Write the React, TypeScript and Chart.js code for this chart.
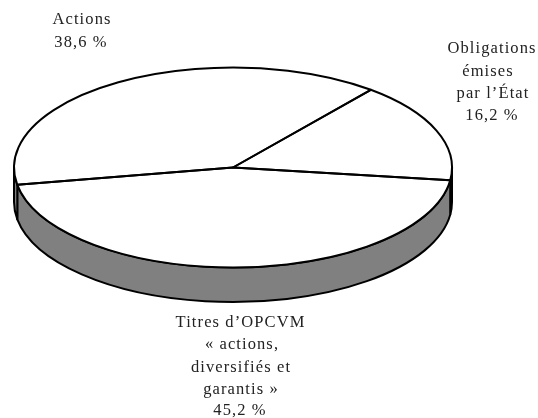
import React, { useEffect, useRef } from "react";
import { Chart, registerables } from "chart.js";

Chart.register(...registerables);

const categories = ["Obligations émises par l’État", "Titres d’OPCVM « actions, diversifiés et garantis »", "Actions"];
const values = [16.2, 45.2, 38.6];
const labelLines = [
  ["Obligations", "émises", "par l’État", "16,2 %"],
  ["Titres d’OPCVM", "« actions,", "diversifiés et", "garantis »", "45,2 %"],
  ["Actions", "38,6 %"],
];
const labelCentres = [
  [492, 488, 493, 492],
  [240.5, 242, 241, 241, 240],
  [82, 81],
];
const labelBaselines = [
  [53, 76, 98, 120],
  [327, 349, 372, 394, 415],
  [24, 47],
];

const WIDTH = 538;
const HEIGHT = 418;
const CX = 233;
const CY = 167.5;
const RX = 219;
const RY = 100;
const DEPTH = 34.5;
const LINE = 2;
const GREY = "#808080";

const pie3d = {
  id: "pie3d",
  beforeDatasetsDraw(chart: any) {
    const ctx = chart.ctx;
    const arcs = chart.getDatasetMeta(0).data;
    ctx.save();
    ctx.lineWidth = LINE;
    ctx.strokeStyle = "#000";
    ctx.fillStyle = GREY;
    ctx.lineJoin = "round";
    for (const arc of arcs) {
      const a0 = arc.startAngle;
      const a1 = arc.endAngle;
      for (const k of [-2, 0, 2]) {
        const s = Math.max(a0, k * Math.PI);
        const e = Math.min(a1, (k + 1) * Math.PI);
        if (e <= s) continue;
        const px = (t: number) => CX + RX * Math.cos(t);
        const py = (t: number) => CY + RY * Math.sin(t);
        ctx.beginPath();
        ctx.moveTo(px(s), py(s));
        ctx.ellipse(CX, CY + DEPTH, RX, RY, 0, s, e);
        ctx.lineTo(px(e), py(e));
        ctx.ellipse(CX, CY, RX, RY, 0, e, s, true);
        ctx.closePath();
        ctx.fill();
        ctx.stroke();
      }
    }
    ctx.restore();
  },
  beforeDatasetDraw(chart: any) {
    const ctx = chart.ctx;
    const arc = chart.getDatasetMeta(0).data[0];
    ctx.save();
    ctx.translate(arc.x, arc.y);
    ctx.scale(RX / arc.outerRadius, RY / arc.outerRadius);
    ctx.translate(-arc.x, -arc.y);
  },
  afterDatasetDraw(chart: any) {
    const ctx = chart.ctx;
    ctx.restore();
    const arcs = chart.getDatasetMeta(0).data;
    ctx.save();
    ctx.lineWidth = LINE;
    ctx.strokeStyle = "#000";
    ctx.lineJoin = "round";
    for (const arc of arcs) {
      ctx.beginPath();
      ctx.moveTo(CX, CY);
      ctx.ellipse(CX, CY, RX, RY, 0, arc.startAngle, arc.endAngle);
      ctx.closePath();
      ctx.stroke();
    }
    ctx.restore();
  },
  afterDraw(chart: any) {
    const ctx = chart.ctx;
    ctx.save();
    ctx.fillStyle = "#222";
    ctx.font = '16.5px "Liberation Serif"';
    ctx.textAlign = "center";
    ctx.textBaseline = "alphabetic";
    (ctx as any).letterSpacing = "1.1px";
    labelLines.forEach((lines, i) => {
      lines.forEach((line, j) => {
        ctx.fillText(line, labelCentres[i][j], labelBaselines[i][j]);
      });
    });
    ctx.restore();
  },
};

export default function App() {
  const ref = useRef<HTMLCanvasElement>(null);
  useEffect(() => {
    const chart = new Chart(ref.current as HTMLCanvasElement, {
      type: "pie",
      data: {
        labels: categories,
        datasets: [{ data: values, backgroundColor: "#ffffff", borderWidth: 0 }],
      },
      options: {
        responsive: false,
        animation: false,
        rotation: 39,
        layout: {
          padding: { left: 0, top: 0, right: WIDTH - 2 * CX, bottom: HEIGHT - 2 * CY },
        },
        plugins: { legend: { display: false }, tooltip: { enabled: false } },
      },
      plugins: [pie3d],
    } as any);
    return () => chart.destroy();
  }, []);
  return (
    <div style={{ position: "fixed", left: 0, top: 0, width: WIDTH, height: HEIGHT, background: "#fff" }}>
      <canvas ref={ref} width={WIDTH} height={HEIGHT} style={{ display: "block" }} />
    </div>
  );
}
